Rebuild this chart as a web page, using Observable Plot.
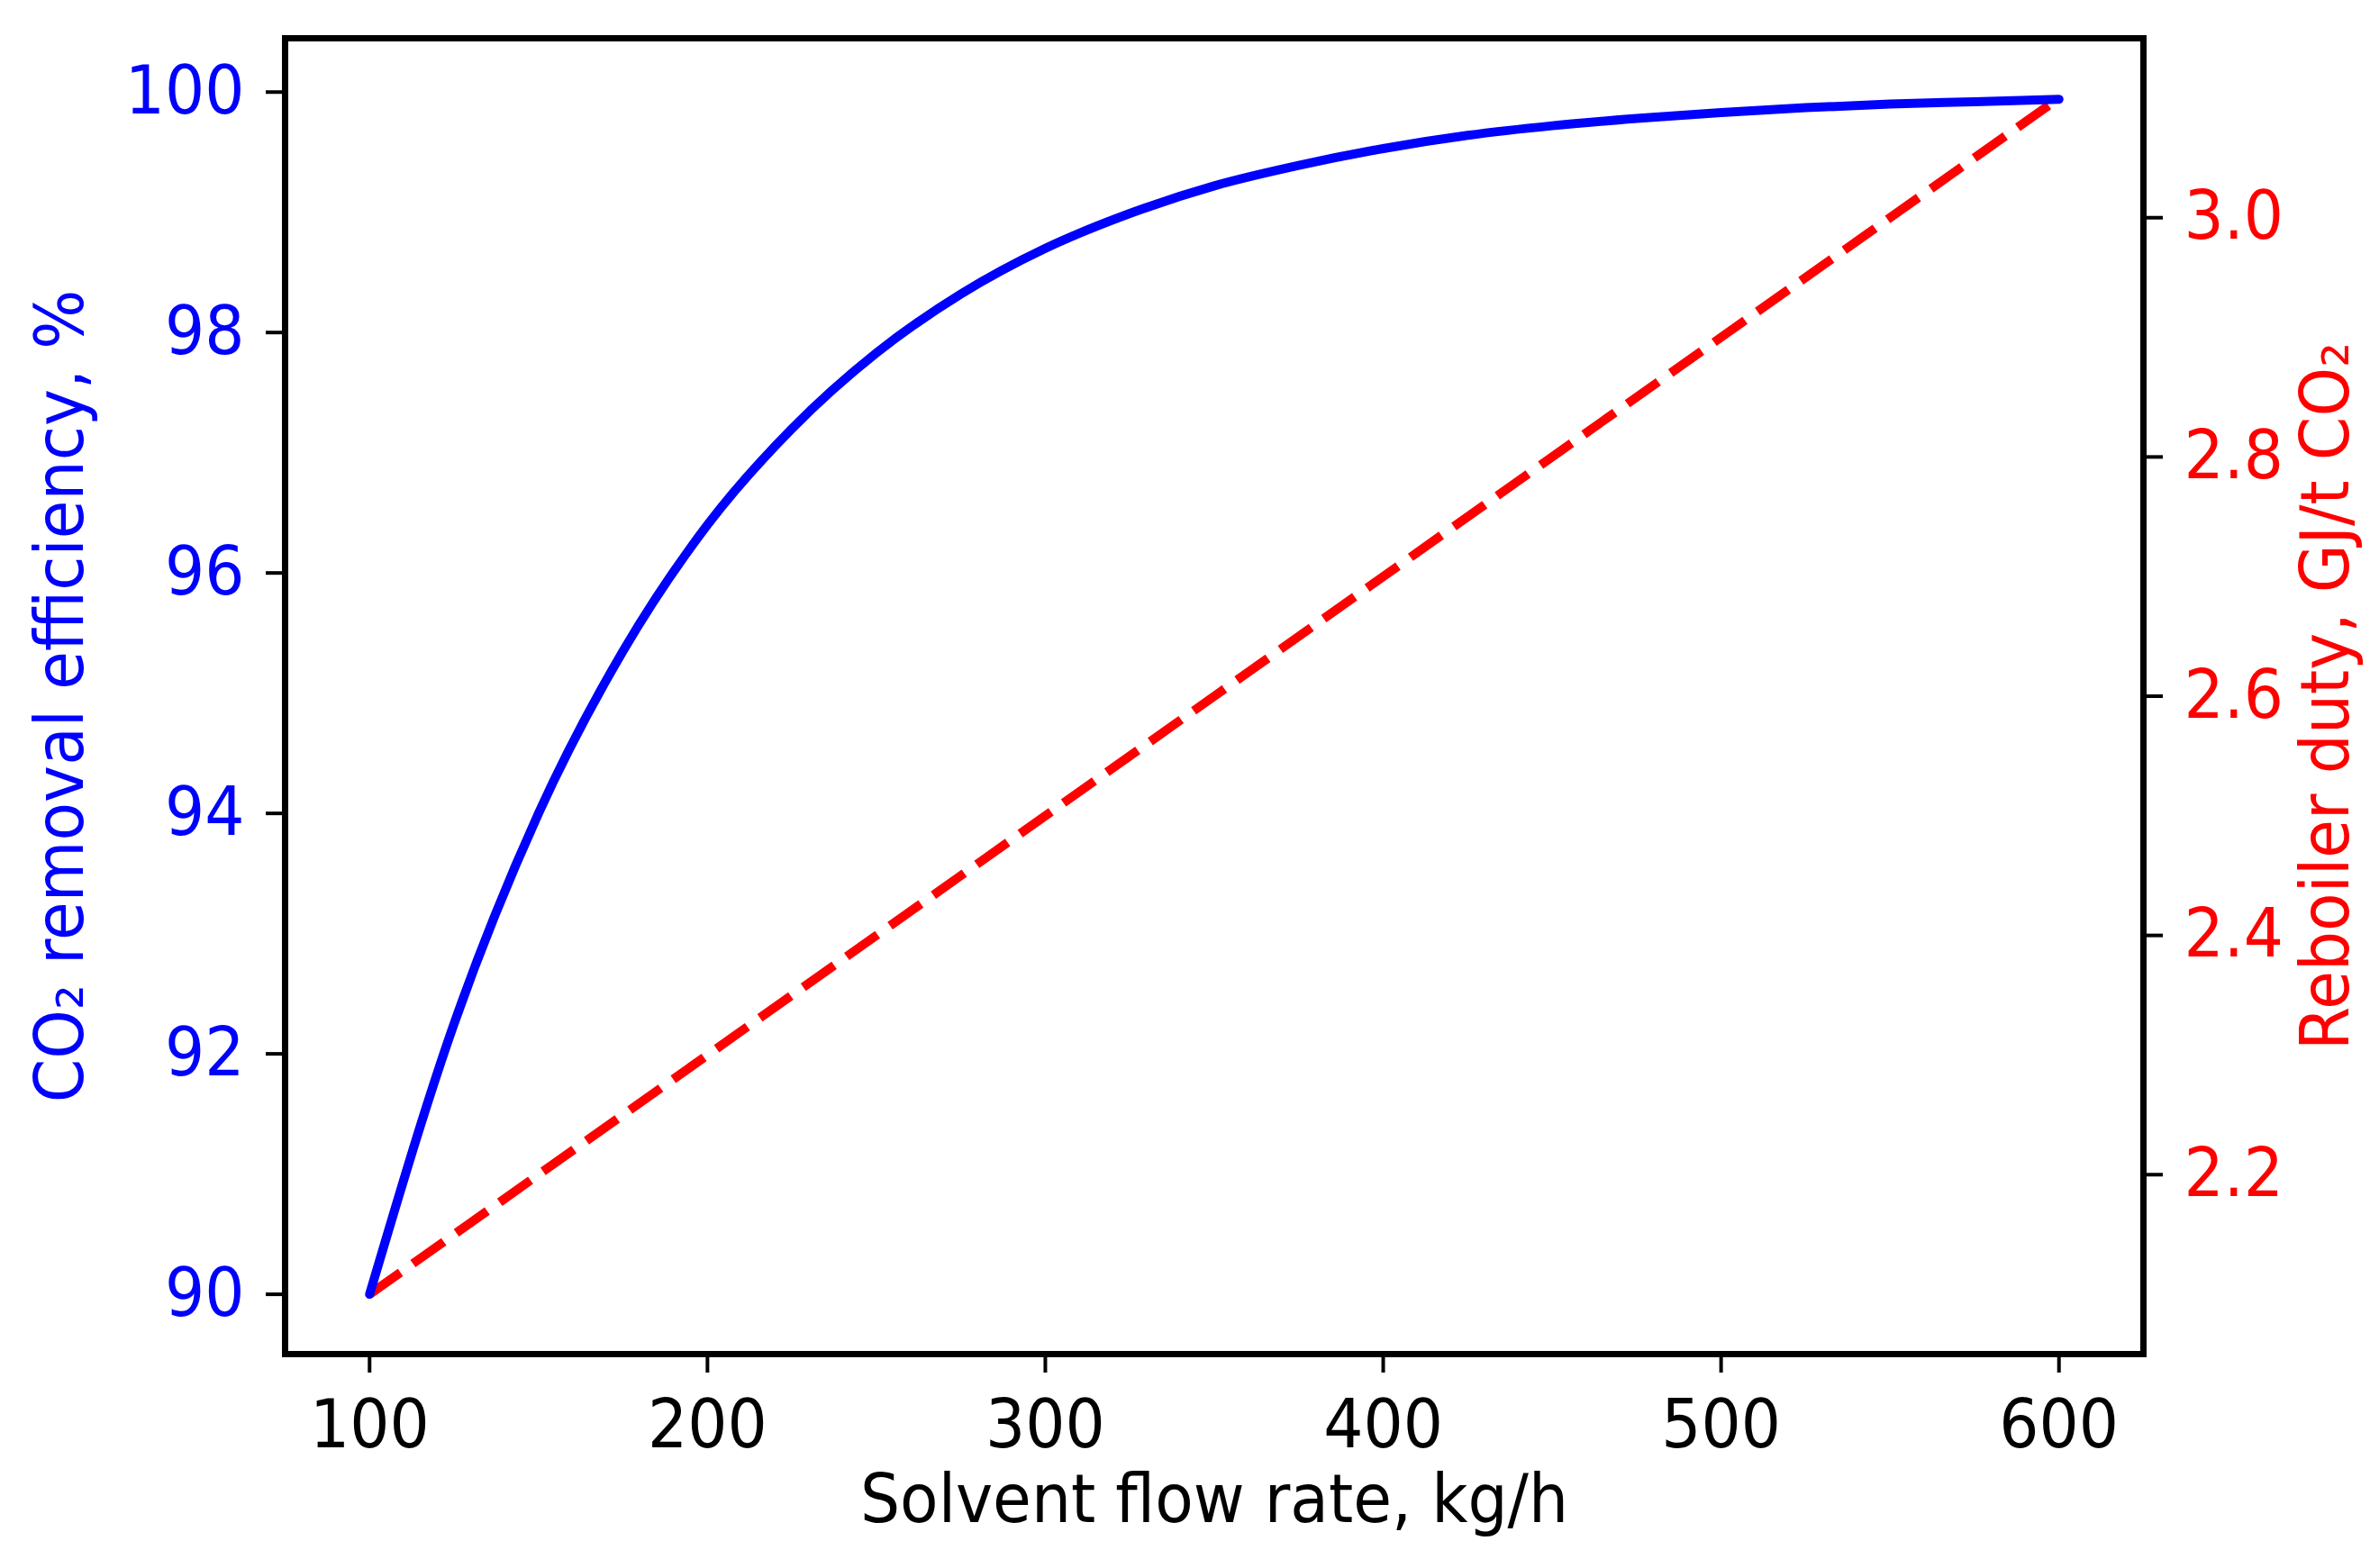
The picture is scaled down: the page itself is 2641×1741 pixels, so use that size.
<!DOCTYPE html>
<html>
<head>
<meta charset="utf-8">
<script src="https://cdn.jsdelivr.net/npm/d3@7"></script>
<script src="https://cdn.jsdelivr.net/npm/@observablehq/plot@0.6"></script>
<style>
  html, body { margin: 0; padding: 0; background: #ffffff; }
  #chart svg { display: block; }
</style>
</head>
<body>
<div id="chart"></div>
<script>
// ---- data ----
const flowRate = [100, 125, 150, 175, 200, 225, 250, 275, 300, 325, 350, 375, 400, 425, 450, 475, 500, 525, 550, 575, 600];
const removalEfficiency = [90.0, 92.25, 94.0, 95.35, 96.4, 97.2, 97.83, 98.32, 98.7, 98.99, 99.22, 99.39, 99.53, 99.64, 99.72, 99.78, 99.83, 99.87, 99.9, 99.92, 99.94];
const dutyFlow = [100, 600];
const reboilerDuty = [2.1, 3.1];

const xTicks = [100, 200, 300, 400, 500, 600];
const effTicks = [90, 92, 94, 96, 98, 100];
const dutyTicks = [2.2, 2.4, 2.6, 2.8, 3.0];

const xLabel = "Solvent flow rate, kg/h";
const leftLabel = "CO\u2082 removal efficiency, %";
const rightLabel = "Reboiler duty, GJ/t CO\u2082";

// ---- scales (matplotlib-like 5% margins) ----
const xDomain = [75, 625];
const effDomain = [89.5025, 100.4475];
const dutyDomain = [2.05, 3.15];
const dutyToEff = d3.scaleLinear().domain(dutyDomain).range(effDomain);

const effData = flowRate.map((f, i) => ({flow: f, value: removalEfficiency[i]}));
const dutyData = dutyFlow.map((f, i) => ({flow: f, value: dutyToEff(reboilerDuty[i])}));

const BLUE = "#0000ff";
const RED = "#ff0000";
const FS = 74;

const svg = Plot.plot({
  width: 2641,
  height: 1741,
  marginLeft: 316,
  marginRight: 262,
  marginTop: 42,
  marginBottom: 238,
  style: {fontFamily: "'DejaVu Sans', sans-serif", background: "#ffffff", color: "#000000"},
  x: {domain: xDomain, label: null},
  y: {domain: effDomain, label: null},
  marks: [
    Plot.line(dutyData, {x: "flow", y: "value", stroke: RED, strokeWidth: 10, strokeDasharray: "42,17", strokeLinecap: "butt"}),
    Plot.line(effData, {x: "flow", y: "value", stroke: BLUE, strokeWidth: 10, curve: "monotone-x"}),
    Plot.frame({stroke: "#000000", strokeWidth: 7}),
    Plot.axisX(xTicks, {anchor: "bottom", tickSize: 21, tickPadding: 30, strokeWidth: 4, stroke: "#000000", fill: "#000000", fontSize: FS, label: null, tickFormat: d => String(d)}),
    Plot.axisY(effTicks, {anchor: "left", tickSize: 21, tickPadding: 24, strokeWidth: 4, stroke: "#000000", fill: BLUE, fontSize: FS, label: null, tickFormat: d => String(d)}),
    Plot.axisY(dutyTicks.map(dutyToEff), {anchor: "right", tickSize: 21, tickPadding: 24, strokeWidth: 4, stroke: "#000000", fill: RED, fontSize: FS, label: null, tickFormat: v => dutyToEff.invert(v).toFixed(1)}),
    Plot.text([xLabel], {text: d => d, frameAnchor: "bottom", dy: 134, lineAnchor: "top", fontSize: FS, fill: "#000000"}),
    Plot.text([leftLabel], {text: d => d, frameAnchor: "left", dx: -248, rotate: -90, textAnchor: "middle", lineAnchor: "middle", fontSize: FS, fill: BLUE}),
    Plot.text([rightLabel], {text: d => d, frameAnchor: "right", dx: 204, rotate: -90, textAnchor: "middle", lineAnchor: "middle", fontSize: FS, fill: RED})
  ]
});

// condense glyphs slightly along the text direction (reference font is a bit narrow)
const SX = 0.94;
svg.querySelectorAll("text").forEach(t => {
  const tr = t.getAttribute("transform");
  if (tr) {
    t.setAttribute("transform", tr + ` scale(${SX},1)`);
  } else {
    const x = +(t.getAttribute("x") || 0), y = +(t.getAttribute("y") || 0);
    t.setAttribute("transform", `translate(${x},${y}) scale(${SX},1) translate(${-x},${-y})`);
  }
});

document.getElementById("chart").appendChild(svg);
</script>
</body>
</html>
